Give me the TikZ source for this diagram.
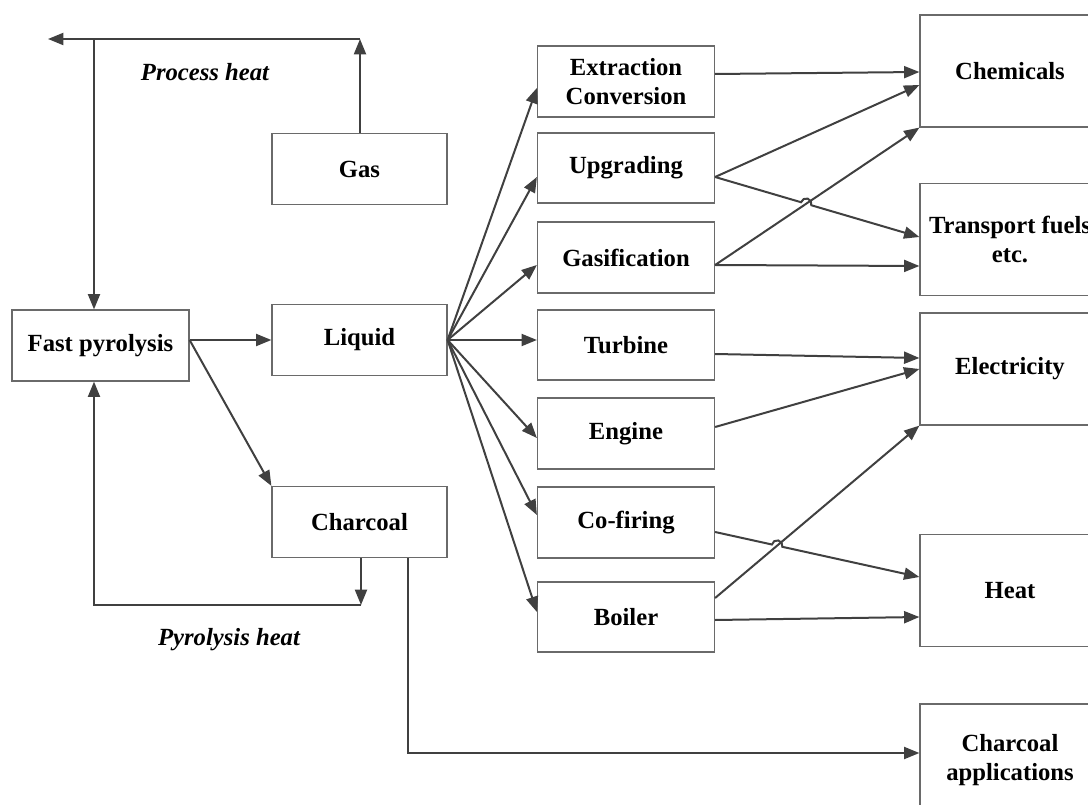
\documentclass[tikz,border=0pt]{standalone}
\usepackage{fontspec}
\setmainfont{Liberation Serif}
\usetikzlibrary{arrows.meta,calc,intersections}
\definecolor{linegray}{HTML}{404040}
\definecolor{boxgray}{HTML}{6A6A6A}
\begin{document}
\begin{tikzpicture}[x=0.75pt,y=-0.75pt,
  box/.style={draw=boxgray, line width=0.9pt, minimum width=132.75pt,
    minimum height=53.25pt, inner sep=0pt, align=center,
    font=\fontsize{18.5}{22}\selectfont\bfseries},
  bigbox/.style={box, minimum width=135pt, minimum height=84pt},
  ln/.style={draw=linegray, line width=1.5pt},
  arr/.style={ln, -{Triangle[length=11.5pt,width=9pt]}},
  lbl/.style={font=\fontsize{18.5}{22}\selectfont\bfseries\itshape}]
\useasboundingbox (0,0) rectangle (1088,805);
\clip (0,0) rectangle (1088,805);

% left column
\node[box] (pyro) at (100.5,345.5) {Fast pyrolysis};
\node[box, minimum width=131.25pt] (gas) at (359.5,169) {Gas};
\node[box, minimum width=131.25pt] (liq) at (359.5,340) {Liquid};
\node[box, minimum width=131.25pt] (char) at (359.5,522) {Charcoal};

% conversion routes
\node[box] (extr) at (626,81.5) {Extraction\\Conversion};
\node[box, minimum height=52.5pt] (upg) at (626,168) {Upgrading};
\node[box] (gasif) at (626,257.5) {Gasification};
\node[box, minimum height=52.5pt] (turb) at (626,345) {Turbine};
\node[box] (eng) at (626,433.5) {Engine};
\node[box] (cof) at (626,522.5) {Co-firing};
\node[box, minimum height=52.5pt] (boil) at (626,617) {Boiler};

% end uses
\node[bigbox] (chem) at (1010,71) {Chemicals};
\node[bigbox] (trans) at (1010,239.5) {Transport fuels\\etc.};
\node[bigbox] (elec) at (1010,369) {Electricity};
\node[bigbox] (heat) at (1010,590.5) {Heat};
\node[bigbox] (capp) at (1010,760) {Charcoal\\applications};

% pyrolysis products
\coordinate (pyout) at (pyro.east |- liq.west);
\draw[arr] (pyout) -- (liq.west);
\draw[arr] (pyout) -- (char.north west);

% liquid to conversion routes
\draw[arr] (liq.east) -- ($(extr.west)+(0,6.5)$);
\draw[arr] (liq.east) -- ($(upg.west)+(0,9)$);
\draw[arr] (liq.east) -- ($(gasif.west)+(0,7.5)$);
\draw[arr] (liq.east) -- ($(turb.west)+(0,-5)$);
\draw[arr] (liq.east) -- ($(eng.west)+(0,4.5)$);
\draw[arr] (liq.east) -- ($(cof.west)+(0,-7.5)$);
\draw[arr] (liq.east) -- ($(boil.west)+(0,-5)$);

% conversion routes to end uses
\coordinate (upgout) at ($(upg.east)+(0,9)$);
\coordinate (gasifout) at ($(gasif.east)+(0,7.5)$);
\coordinate (transin) at ($(trans.west)+(0,-2.5)$);
\coordinate (cofout) at ($(cof.east)+(0,9.5)$);
\coordinate (heatin) at ($(heat.west)+(0,-13.5)$);
\coordinate (boilup) at ($(boil.east)+(0,-19)$);

\draw[arr] ($(extr.east)+(0,-7.5)$) -- ($(chem.west)+(0,1)$);
\draw[arr] (upgout) -- ($(chem.west)+(0,14)$);
\draw[arr, name path=gcpath] (gasifout) -- (chem.south west);
\draw[arr] (gasifout) -- ($(trans.west)+(0,26.5)$);
\draw[arr] ($(turb.east)+(0,9)$) -- ($(elec.west)+(0,-11)$);
\draw[arr] ($(eng.east)+(0,-6.5)$) -- (elec.west);
\draw[arr, name path=bepath] (boilup) -- (elec.south west);
\draw[arr] ($(boil.east)+(0,3)$) -- ($(heat.west)+(0,26.5)$);

% lines hopping over crossings
\path[name path=utpath] (upgout) -- (transin);
\path[name intersections={of=gcpath and utpath, by=hopA}];
\draw[arr] let \p1=($(transin)-(upgout)$), \n1={atan2(\y1,\x1)} in
  (upgout) -- ($(hopA)!4pt!(upgout)$)
  arc[start angle=\n1+180, delta angle=-180, radius=4pt] -- (transin);

\path[name path=chpath] (cofout) -- (heatin);
\path[name intersections={of=bepath and chpath, by=hopB}];
\draw[arr] let \p1=($(heatin)-(cofout)$), \n1={atan2(\y1,\x1)} in
  (cofout) -- ($(hopB)!4pt!(cofout)$)
  arc[start angle=\n1+180, delta angle=-180, radius=4pt] -- (heatin);

% charcoal applications
\draw[arr] ($(char.south)+(48.5,0)$) |- ($(capp.west)+(0,-7)$);

% process heat loop
\coordinate (phtop) at (360,39);
\coordinate (phend) at (48,39);
\coordinate (phleft) at (94,39);
\draw[arr] (gas.north -| phtop) -- (phtop);
\draw[arr] (phtop) -- (phend);
\draw[arr] (phleft) -- (phleft |- pyro.north);
\node[lbl] (phlabel) at (205,72) {Process heat};

% pyrolysis heat loop
\coordinate (pybot) at (361,605);
\coordinate (pyleft) at (94,605);
\draw[arr] (char.south -| pybot) -- (pybot);
\draw[arr] (pybot) -- (pyleft) -- (pyleft |- pyro.south);
\node[lbl] (pylabel) at (229,640) {Pyrolysis heat};
\end{tikzpicture}
\end{document}
